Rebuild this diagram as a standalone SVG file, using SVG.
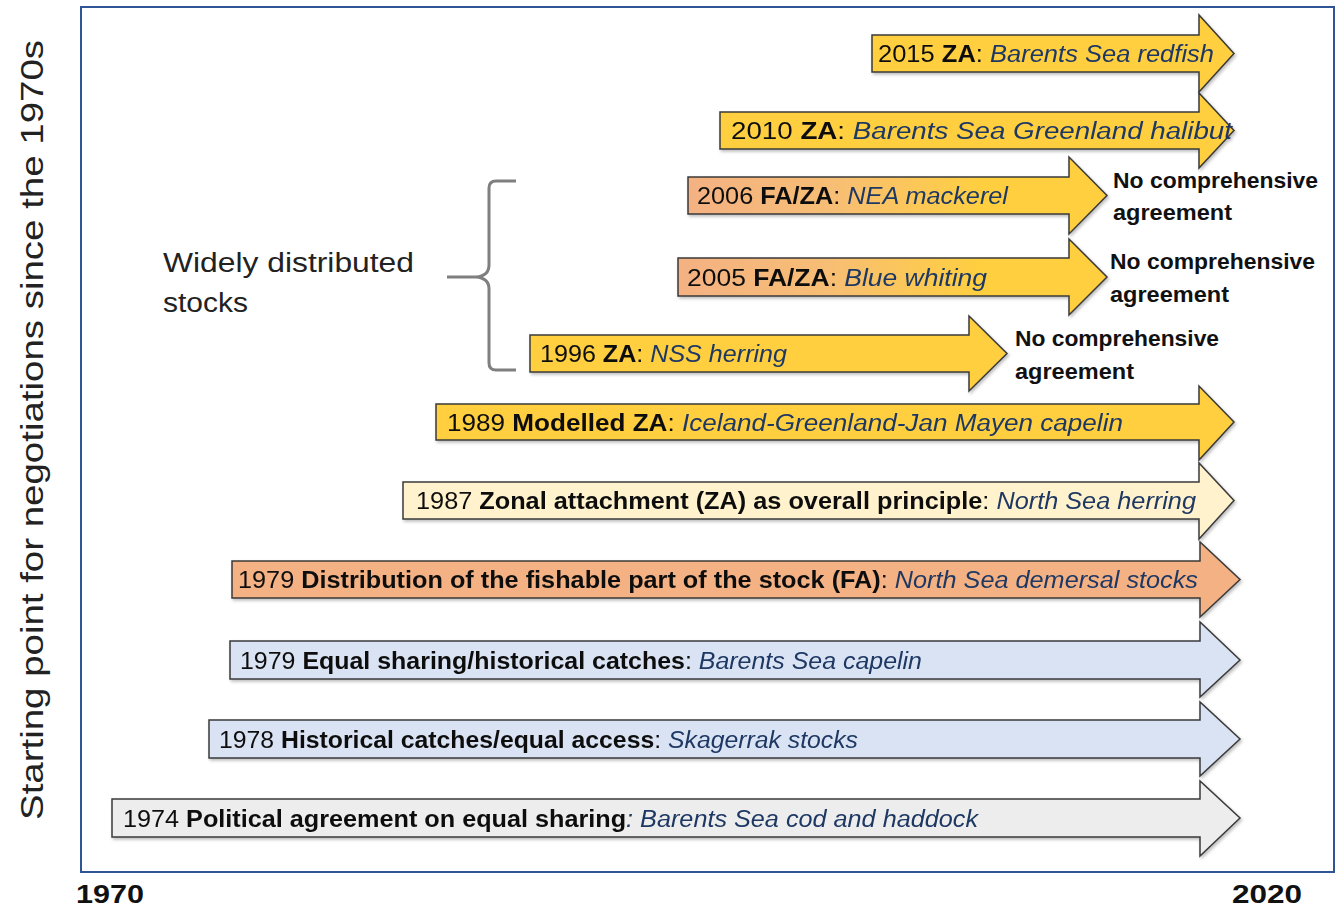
<svg xmlns="http://www.w3.org/2000/svg" width="1338" height="908" viewBox="0 0 1338 908">
<style>
.lbl{font-family:"Liberation Sans",Arial,sans-serif;font-size:23px;fill:#111}
.b{font-weight:bold}
.sp{font-style:italic;fill:#1F3864}
.arr{stroke:#3a3a3a;stroke-width:1.5;stroke-linejoin:miter}
.y{fill:#FFCF40}.c{fill:#FFF2CC}.o{fill:#F4B183}.bl{fill:#DAE3F3}.g{fill:#EDEDED}
.nca{font-family:"Liberation Sans",Arial,sans-serif;font-size:22px;font-weight:bold;fill:#111}
.ax{font-family:"Liberation Sans",Arial,sans-serif;font-size:25px;font-weight:bold;fill:#111}
</style>
<defs>
<linearGradient id="oy" x1="0" y1="0" x2="1" y2="0">
<stop offset="0" stop-color="#F4B183"/>
<stop offset="0.35" stop-color="#F7BE74"/>
<stop offset="0.7" stop-color="#FFCF40"/>
<stop offset="1" stop-color="#FFCF40"/>
</linearGradient>
<filter id="sh" x="-5%" y="-20%" width="110%" height="140%">
<feDropShadow dx="1.5" dy="2" stdDeviation="1.5" flood-color="#000" flood-opacity="0.25"/>
</filter>
</defs>
<rect x="0" y="0" width="1338" height="908" fill="#fff"/>
<rect id="frame" x="81" y="7" width="1253" height="865" fill="none" stroke="#2F5597" stroke-width="2"/>
<text id="ylabel" transform="translate(43,430) rotate(-90)" text-anchor="middle" style="font-family:'Liberation Sans',Arial,sans-serif;font-size:32px;fill:#222" textLength="780" lengthAdjust="spacingAndGlyphs">Starting point for negotiations since the 1970s</text>
<text id="x1970" class="ax" x="76" y="903" textLength="68" lengthAdjust="spacingAndGlyphs">1970</text>
<text id="x2020" class="ax" x="1232" y="903" textLength="70" lengthAdjust="spacingAndGlyphs">2020</text>

<g id="n2015" filter="url(#sh)">
<path class="arr y" d="M872 35H1199V15L1234 53.5L1199 92V72H872Z"/>
<text class="lbl" x="878" y="62" textLength="336" lengthAdjust="spacingAndGlyphs">2015 <tspan class="b">ZA</tspan>: <tspan class="sp">Barents Sea redfish</tspan></text>
</g>
<g id="n2010" filter="url(#sh)">
<path class="arr y" d="M720 112H1199V93L1234 130.5L1199 168V149H720Z"/>
<text class="lbl" x="731" y="139" textLength="501" lengthAdjust="spacingAndGlyphs">2010 <tspan class="b">ZA</tspan>: <tspan class="sp">Barents Sea Greenland halibut</tspan></text>
</g>
<g id="n2006" filter="url(#sh)">
<path class="arr" fill="url(#oy)" d="M688 177H1069V157L1107 195.5L1069 234V214H688Z"/>
<text class="lbl" x="697" y="204" textLength="311" lengthAdjust="spacingAndGlyphs">2006 <tspan class="b">FA/ZA</tspan>: <tspan class="sp">NEA mackerel</tspan></text>
</g>
<g id="n2005" filter="url(#sh)">
<path class="arr" fill="url(#oy)" d="M678 258H1069V239L1107 277L1069 315V296H678Z"/>
<text class="lbl" x="687" y="286" textLength="300" lengthAdjust="spacingAndGlyphs">2005 <tspan class="b">FA/ZA</tspan>: <tspan class="sp">Blue whiting</tspan></text>
</g>
<g id="n1996" filter="url(#sh)">
<path class="arr y" d="M530 335H969V316L1007 353.5L969 391V372H530Z"/>
<text class="lbl" x="540" y="362" textLength="247" lengthAdjust="spacingAndGlyphs">1996 <tspan class="b">ZA</tspan>: <tspan class="sp">NSS herring</tspan></text>
</g>
<g id="n1989" filter="url(#sh)">
<path class="arr y" d="M436 404H1199V386L1234 422L1199 460V440H436Z"/>
<text class="lbl" x="447" y="431" textLength="676" lengthAdjust="spacingAndGlyphs">1989 <tspan class="b">Modelled ZA</tspan>: <tspan class="sp">Iceland-Greenland-Jan Mayen capelin</tspan></text>
</g>
<g id="n1987" filter="url(#sh)">
<path class="arr c" d="M403 482H1199V463L1234 500.5L1199 539V519H403Z"/>
<text class="lbl" x="416" y="509" textLength="780" lengthAdjust="spacingAndGlyphs">1987 <tspan class="b">Zonal attachment (ZA) as overall principle</tspan>: <tspan class="sp">North Sea herring</tspan></text>
</g>
<g id="n1979fa" filter="url(#sh)">
<path class="arr o" d="M232 561H1200V542L1240 579.5L1200 617V598H232Z"/>
<text class="lbl" x="238" y="588" textLength="960" lengthAdjust="spacingAndGlyphs">1979 <tspan class="b">Distribution of the fishable part of the stock (FA)</tspan>: <tspan class="sp">North Sea demersal stocks</tspan></text>
</g>
<g id="n1979eq" filter="url(#sh)">
<path class="arr bl" d="M230 641H1200V622L1240 660L1200 697V679H230Z"/>
<text class="lbl" x="240" y="669" textLength="682" lengthAdjust="spacingAndGlyphs">1979 <tspan class="b">Equal sharing/historical catches</tspan>: <tspan class="sp">Barents Sea capelin</tspan></text>
</g>
<g id="n1978" filter="url(#sh)">
<path class="arr bl" d="M209 720H1200V702L1240 739L1200 776V758H209Z"/>
<text class="lbl" x="219" y="748" textLength="639" lengthAdjust="spacingAndGlyphs">1978 <tspan class="b">Historical catches/equal access</tspan>: <tspan class="sp">Skagerrak stocks</tspan></text>
</g>
<g id="n1974" filter="url(#sh)">
<path class="arr g" d="M112 799H1200V781L1240 818L1200 856V837H112Z"/>
<text class="lbl" x="123" y="827" textLength="855" lengthAdjust="spacingAndGlyphs">1974 <tspan class="b">Political agreement on equal sharing</tspan><tspan class="sp">: Barents Sea cod and haddock</tspan></text>
</g>

<g id="nca1">
<text class="nca" x="1113" y="188" textLength="205" lengthAdjust="spacingAndGlyphs">No comprehensive</text>
<text class="nca" x="1113" y="220" textLength="119" lengthAdjust="spacingAndGlyphs">agreement</text>
</g>
<g id="nca2">
<text class="nca" x="1110" y="269" textLength="205" lengthAdjust="spacingAndGlyphs">No comprehensive</text>
<text class="nca" x="1110" y="302" textLength="119" lengthAdjust="spacingAndGlyphs">agreement</text>
</g>
<g id="nca3">
<text class="nca" x="1015" y="346" textLength="204" lengthAdjust="spacingAndGlyphs">No comprehensive</text>
<text class="nca" x="1015" y="379" textLength="119" lengthAdjust="spacingAndGlyphs">agreement</text>
</g>

<g id="wds">
<text x="163" y="272" style="font-family:'Liberation Sans',Arial,sans-serif;font-size:27px;fill:#222" textLength="251" lengthAdjust="spacingAndGlyphs">Widely distributed</text>
<text x="163" y="312" style="font-family:'Liberation Sans',Arial,sans-serif;font-size:27px;fill:#222" textLength="85" lengthAdjust="spacingAndGlyphs">stocks</text>
</g>
<g id="connectors">
<path d="M516 181H496Q489 181 489 188V265Q489 276 476 277H447M476 277Q489 278 489 289V363Q489 370 496 370H516" fill="none" stroke="#7F7F7F" stroke-width="3"/>
</g>
</svg>
